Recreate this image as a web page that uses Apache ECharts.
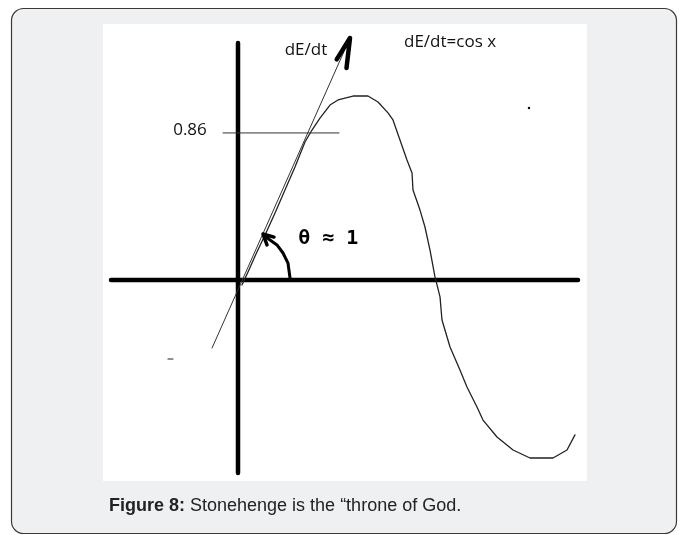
<!DOCTYPE html>
<html>
<head>
<meta charset="utf-8">
<script src="https://cdn.jsdelivr.net/npm/echarts@6/dist/echarts.min.js"></script>
<style>
  html, body { margin: 0; padding: 0; background: #fff; }
  #main { width: 683px; height: 535px; }
</style>
</head>
<body>
<div id="main"></div>
<script>
// hand drawn curve dE/dt (x, y)
const curvePoints = [
  [0.057, -0.029], [0.143, 0.047], [0.257, 0.152], [0.386, 0.263], [0.529, 0.392],
  [0.671, 0.526], [0.814, 0.661], [0.957, 0.807], [1.057, 0.877], [1.171, 0.947],
  [1.314, 1.023], [1.429, 1.053], [1.643, 1.076], [1.857, 1.076], [2.0, 1.041],
  [2.143, 0.977], [2.214, 0.936], [2.314, 0.819], [2.414, 0.702], [2.486, 0.626],
  [2.5, 0.526], [2.6, 0.409], [2.671, 0.31], [2.743, 0.175], [2.814, 0.018],
  [2.886, -0.099], [2.914, -0.234], [3.029, -0.392], [3.171, -0.526], [3.271, -0.626],
  [3.414, -0.743], [3.5, -0.819], [3.7, -0.918], [3.929, -0.994], [4.171, -1.041],
  [4.5, -1.041], [4.7, -0.994], [4.814, -0.906]
]
const tangentLine = [[-0.371, -0.398], [1.6, 1.415]]
const tangentArrow = [[1.41, 1.29], [1.6, 1.415], [1.55, 1.24]]
const levelLine = [[-0.214, 0.86], [1.443, 0.86]]
const angleArc = [[0.743, 0.012], [0.714, 0.099], [0.643, 0.158], [0.557, 0.205], [0.457, 0.234], [0.371, 0.263]]
const angleArrow = [[0.514, 0.251], [0.357, 0.269], [0.414, 0.205]]
const xAxisLine = [[-1.814, 0], [4.857, 0]]
const yAxisLine = [[0, 1.386], [0, -1.129]]
const strayDot = [[4.157, 1.006]]
const strayDash = [[-1.0, -0.462], [-0.929, -0.462]]
const labels = [
  { text: 'dE/dt', pos: [0.971, 1.345] },
  { text: 'dE/dt=cos x', pos: [3.029, 1.392] },
  { text: '0.86', pos: [-0.686, 0.877] }
]
const angleLabel = { text: 'θ ≈ 1', pos: [1.29, 0.24] }
const caption = ['Figure 8:', ' Stonehenge is the “throne of God.']

const chart = echarts.init(document.getElementById('main'))

const lineSeries = (data, width, color) => ({
    type: 'line',
    data: data,
    symbol: 'none',
    silent: true,
    animation: false,
    lineStyle: { width: width, color: color, cap: 'round', join: 'round' },
})

chart.setOption({
    animation: false,
    grid: { left: 98, top: 23.5, width: 490, height: 461.7, show: false },
    xAxis: { type: 'value', min: -2, max: 5, show: false },
    yAxis: { type: 'value', min: -1.2, max: 1.5, show: false },
    graphic: [
        {
            type: 'rect',
            z: -10,
            shape: { x: 11.5, y: 8.5, width: 665, height: 525, r: 12 },
            style: { fill: '#eff0f2', stroke: '#3a3a3a', lineWidth: 1.2 },
        },
        {
            type: 'rect',
            z: -9,
            shape: { x: 103, y: 24, width: 484, height: 457 },
            style: { fill: '#ffffff' },
        },
        {
            type: 'text',
            x: 109,
            y: 506,
            style: {
                text: '{b|' + caption[0] + '}' + caption[1],
                fontFamily: 'Liberation Sans, Arial',
                fontSize: 18,
                fill: '#222',
                verticalAlign: 'middle',
                rich: { b: { fontWeight: 'bold', fontSize: 18, fill: '#222', fontFamily: 'Liberation Sans, Arial' } },
            },
        },
    ],
    series: [
        lineSeries(xAxisLine, 4.5, '#000'),
        lineSeries(yAxisLine, 4.5, '#000'),
        lineSeries(curvePoints, 1.3, '#222'),
        lineSeries(tangentLine, 1, '#333'),
        lineSeries(tangentArrow, 4.5, '#000'),
        lineSeries(levelLine, 1, '#333'),
        lineSeries(angleArc, 3, '#000'),
        lineSeries(angleArrow, 3.5, '#000'),
        lineSeries(strayDash, 1.2, '#222'),
        {
            type: 'scatter',
            data: strayDot,
            symbolSize: 2.5,
            itemStyle: { color: '#111', opacity: 1 },
            silent: true,
        },
        {
            type: 'scatter',
            symbolSize: 0,
            silent: true,
            itemStyle: { opacity: 1 },
            data: labels.map((d) => ({ value: d.pos, name: d.text })),
            label: {
                show: true,
                position: 'inside',
                formatter: (p) => p.name,
                color: '#111',
                textBorderWidth: 0,
                fontSize: 17,
                fontFamily: 'Open Sans',
            },
        },
        {
            type: 'scatter',
            symbolSize: 0,
            silent: true,
            itemStyle: { opacity: 1 },
            data: [{ value: angleLabel.pos, name: angleLabel.text }],
            label: {
                show: true,
                position: 'inside',
                formatter: (p) => p.name,
                color: '#000',
                textBorderWidth: 0,
                fontSize: 20,
                fontWeight: 'bold',
                fontFamily: 'DejaVu Sans Mono',
            },
        },
    ],
})
</script>
</body>
</html>
